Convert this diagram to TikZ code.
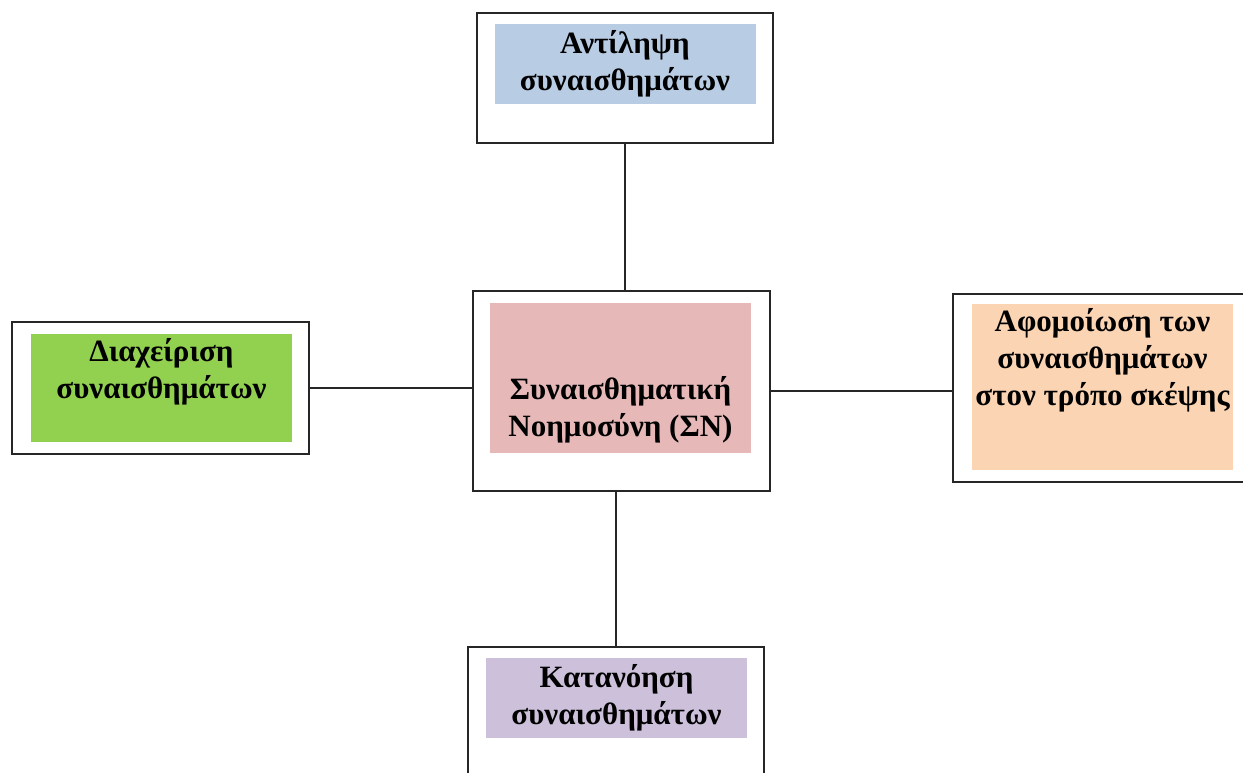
\documentclass[tikz,border=0pt]{standalone}
\usepackage{fontspec}
\setmainfont{Liberation Serif}
\usepackage{xcolor}
\usepackage{tikz}
\usetikzlibrary{positioning,calc}

\definecolor{antblue}{HTML}{B8CCE4}
\definecolor{snpink}{HTML}{E6B9B8}
\definecolor{diagreen}{HTML}{92D050}
\definecolor{afoorange}{HTML}{FBD4B4}
\definecolor{katpurple}{HTML}{CCC0DA}

\begin{document}
\begin{tikzpicture}[x=1pt,y=-1pt,
  every node/.style={font=\fontsize{31}{37}\selectfont\bfseries, align=center, inner sep=0pt},
  outerbox/.style={draw=black!85, line width=1.5pt, fill=white, rectangle},
  link/.style={draw=black!85, line width=1.5pt}]
\useasboundingbox (0,0) rectangle (1243,772);

% Outer frames
\node[outerbox, minimum width=296pt, minimum height=130pt] (antilipsi) at (625,78) {};
\node[outerbox, minimum width=297pt, minimum height=200pt] (sn) at (621.5,391) {};
\node[outerbox, minimum width=297pt, minimum height=132pt] (diaxeirisi) at (160.5,388) {};
\node[outerbox, minimum width=297pt, minimum height=188pt] (afomoiosi) at (1101.5,388) {};
\node[outerbox, minimum width=296pt, minimum height=130pt] (katanoisi) at (616,712) {};

% Coloured panels
\node[fill=antblue, minimum width=261pt, minimum height=80pt] (antilipsi-fill) at (625.5,64) {};
\node[fill=snpink, minimum width=261pt, minimum height=150pt] (sn-fill) at (620.5,378) {};
\node[fill=diagreen, minimum width=261pt, minimum height=108pt] (diaxeirisi-fill) at (161.5,388) {};
\node[fill=afoorange, minimum width=261pt, minimum height=166pt] (afomoiosi-fill) at (1102.5,387) {};
\node[fill=katpurple, minimum width=261pt, minimum height=80pt] (katanoisi-fill) at (616.5,698) {};

% Labels
\node (antilipsi-txt) at (625,64) {Αντίληψη\\συναισθημάτων};
\node (sn-txt) at (620.5,410) {Συναισθηματική\\Νοημοσύνη (ΣΝ)};
\node (diaxeirisi-txt) at (161.5,372) {Διαχείριση\\συναισθημάτων};
\node (afomoiosi-txt) at (1102.5,360) {Αφομοίωση των\\συναισθημάτων\\στον τρόπο σκέψης};
\node (katanoisi-txt) at (616.5,698) {Κατανόηση\\συναισθημάτων};

% Links
\draw[link] (antilipsi.south) -- (antilipsi.south |- sn.north);
\draw[link] (diaxeirisi.east) -- (diaxeirisi.east -| sn.west);
\draw[link] (sn.east) -- (sn.east -| afomoiosi.west);
\draw[link] (sn.south -| katanoisi.north) -- (katanoisi.north);
\end{tikzpicture}
\end{document}
